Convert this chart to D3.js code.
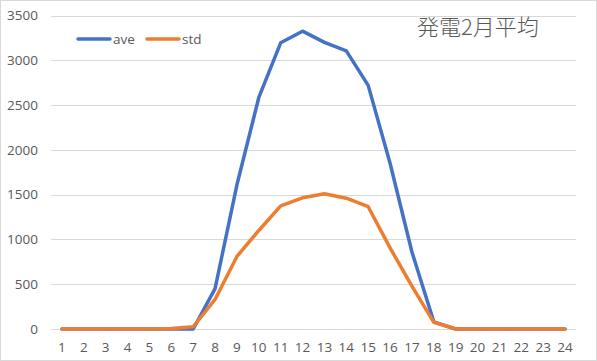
<!DOCTYPE html>
<html><head><meta charset="utf-8">
<script src="https://cdn.jsdelivr.net/npm/d3@7"></script>
<style>body{margin:0;background:#fff}svg{display:block}</style>
</head><body>
<script>
const hours = ["1","2","3","4","5","6","7","8","9","10","11","12","13","14","15","16","17","18","19","20","21","22","23","24"];
const ave = [0,0,0,0,0,0,0,450,1610,2585,3195,3325,3200,3105,2720,1850,860,80,0,0,0,0,0,0];
const std = [0,0,0,0,0,5,25,330,810,1100,1375,1465,1510,1460,1365,905,480,75,0,0,0,0,0,0];
const yTicks = [0,500,1000,1500,2000,2500,3000,3500];
const seriesNames = ["ave","std"];
const colors = ["#4472C4","#ED7D31"];
const title = "発電2月平均";

const W=597,H=361;
const svg=d3.select("body").append("svg").attr("width",W).attr("height",H);
svg.append("rect").attr("x",0.5).attr("y",0.5).attr("width",W-1).attr("height",H-1).attr("fill","#fff").attr("stroke","#d9d9d9");

const x=d3.scaleBand().domain(hours).range([51,576]);
const y=d3.scaleLinear().domain([0,3500]).range([329,15.5]);

const grid=svg.append("g");
grid.selectAll("line").data(yTicks).join("line")
 .attr("x1",51).attr("x2",576).attr("y1",d=>Math.round(y(d))+0.5).attr("y2",d=>Math.round(y(d))+0.5)
 .attr("stroke","#d9d9d9").attr("stroke-width",1);

const font="'Open Sans','Noto Sans',sans-serif";
const yAxis=svg.append("g").attr("transform","translate(38,0)")
 .call(d3.axisLeft(y).tickValues(yTicks).tickFormat(d3.format("d")).tickSize(0).tickPadding(0));
yAxis.select(".domain").remove();
yAxis.selectAll("text").attr("font-family",font).attr("font-size","13.5px").attr("fill","#595959");

const xAxis=svg.append("g").attr("transform","translate(0,342)")
 .call(d3.axisBottom(x).tickSize(0).tickPadding(0));
xAxis.select(".domain").remove();
xAxis.selectAll("text").attr("font-family",font).attr("font-size","13.5px").attr("fill","#595959");

const data=[ave,std];
const line=d3.line().x((d,i)=>x(hours[i])+x.bandwidth()/2).y(d=>y(d));
data.forEach((s,k)=>{
 svg.append("path").datum(s).attr("d",line).attr("fill","none")
  .attr("stroke",colors[k]).attr("stroke-width",3.5).attr("stroke-linejoin","round").attr("stroke-linecap","round");
});

const leg=svg.append("g");
seriesNames.forEach((n,k)=>{
 const lx=78+k*69;
 leg.append("line").attr("x1",lx).attr("x2",lx+32).attr("y1",39).attr("y2",39)
  .attr("stroke",colors[k]).attr("stroke-width",3.5).attr("stroke-linecap","round");
 leg.append("text").attr("x",lx+35).attr("y",44).text(n)
  .attr("font-family",font).attr("font-size","13.5px").attr("fill","#595959");
});

svg.append("text").attr("x",417).attr("y",35).text(title)
 .attr("font-family","'Noto Sans CJK JP',sans-serif").attr("font-weight",300).attr("font-size","22px").attr("fill","#595959");
</script>
</body></html>
